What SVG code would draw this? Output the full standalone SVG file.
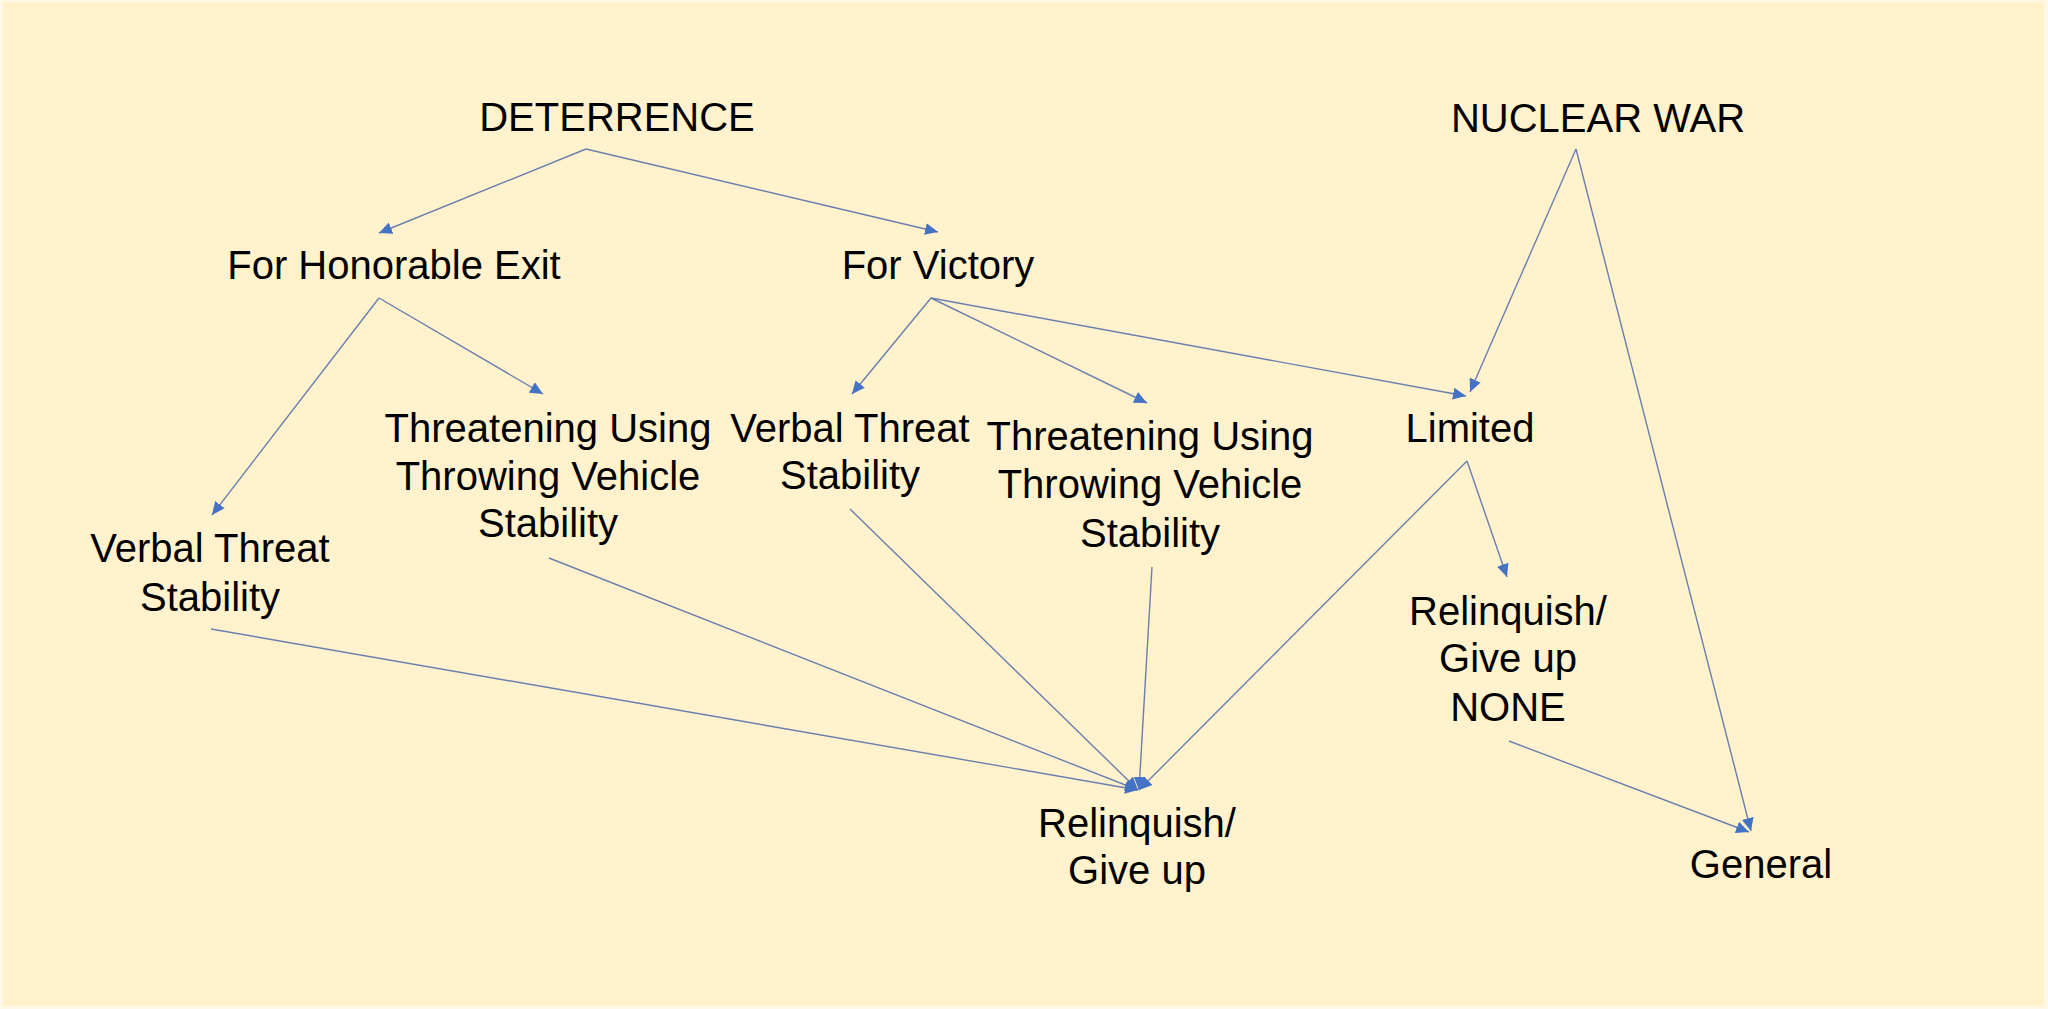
<svg xmlns="http://www.w3.org/2000/svg" width="2048" height="1009" viewBox="0 0 2048 1009">
  <style>
    .bg { fill: #FFF2CC; }
    .lbl { font-family: "Liberation Sans", Arial, sans-serif; font-size: 40px; fill: #000000; text-anchor: middle; }
    .edge { fill: none; stroke: #6A7FAE; stroke-width: 1.4; marker-end: url(#arr); }
    .plain { fill: none; stroke: #6A7FAE; stroke-width: 1.4; }
  </style>
  <defs>
    <marker id="arr" markerUnits="userSpaceOnUse" markerWidth="14" markerHeight="12" refX="13" refY="6" orient="auto">
      <path d="M0,0 L13,6 L0,12 z" fill="#4472C4"/>
    </marker>
  </defs>
  <rect x="0" y="0" width="2048" height="1009" fill="#FFF8E6"/>
  <rect class="bg" x="3" y="2" width="2041" height="1004"/>

  <g id="connectors">
    <line class="edge" x1="586" y1="149" x2="379" y2="233"/>
    <line class="edge" x1="586" y1="149" x2="938" y2="232"/>
    <line class="edge" x1="379" y1="298" x2="212" y2="515"/>
    <line class="edge" x1="379" y1="298" x2="543" y2="394"/>
    <line class="edge" x1="931" y1="298" x2="852" y2="394"/>
    <line class="edge" x1="931" y1="298" x2="1147" y2="403"/>
    <line class="edge" x1="931" y1="298" x2="1466" y2="396"/>
    <line class="edge" x1="1576" y1="149" x2="1470" y2="392"/>
    <line class="edge" x1="1576" y1="149" x2="1751" y2="831"/>
    <line class="edge" x1="211" y1="629" x2="1138" y2="790"/>
    <line class="edge" x1="549" y1="558" x2="1138" y2="790"/>
    <line class="edge" x1="850" y1="509" x2="1138" y2="790"/>
    <line class="edge" x1="1152" y1="567" x2="1139" y2="790"/>
    <line class="edge" x1="1467" y1="461" x2="1139" y2="790"/>
    <line class="edge" x1="1467" y1="461" x2="1507" y2="577"/>
    <line class="edge" x1="1509" y1="741" x2="1749" y2="832"/>
  </g>

  <g id="deterrence"><text class="lbl" x="617" y="131">DETERRENCE</text></g>
  <g id="nuclear-war"><text class="lbl" x="1598" y="132">NUCLEAR WAR</text></g>
  <g id="honorable-exit"><text class="lbl" x="394" y="279">For Honorable Exit</text></g>
  <g id="victory"><text class="lbl" x="938" y="279">For Victory</text></g>
  <g id="verbal-left">
    <text class="lbl" x="210" y="562">Verbal Threat</text>
    <text class="lbl" x="210" y="611">Stability</text>
  </g>
  <g id="threatening-left">
    <text class="lbl" x="548" y="442">Threatening Using</text>
    <text class="lbl" x="548" y="490">Throwing Vehicle</text>
    <text class="lbl" x="548" y="537">Stability</text>
  </g>
  <g id="verbal-mid">
    <text class="lbl" x="850" y="442">Verbal Threat</text>
    <text class="lbl" x="850" y="489">Stability</text>
  </g>
  <g id="threatening-mid">
    <text class="lbl" x="1150" y="450">Threatening Using</text>
    <text class="lbl" x="1150" y="498">Throwing Vehicle</text>
    <text class="lbl" x="1150" y="547">Stability</text>
  </g>
  <g id="limited"><text class="lbl" x="1470" y="442">Limited</text></g>
  <g id="relinquish-none">
    <text class="lbl" x="1508" y="625">Relinquish/</text>
    <text class="lbl" x="1508" y="672">Give up</text>
    <text class="lbl" x="1508" y="721">NONE</text>
  </g>
  <g id="relinquish">
    <text class="lbl" x="1137" y="837">Relinquish/</text>
    <text class="lbl" x="1137" y="884">Give up</text>
  </g>
  <g id="general"><text class="lbl" x="1761" y="878">General</text></g>
</svg>
